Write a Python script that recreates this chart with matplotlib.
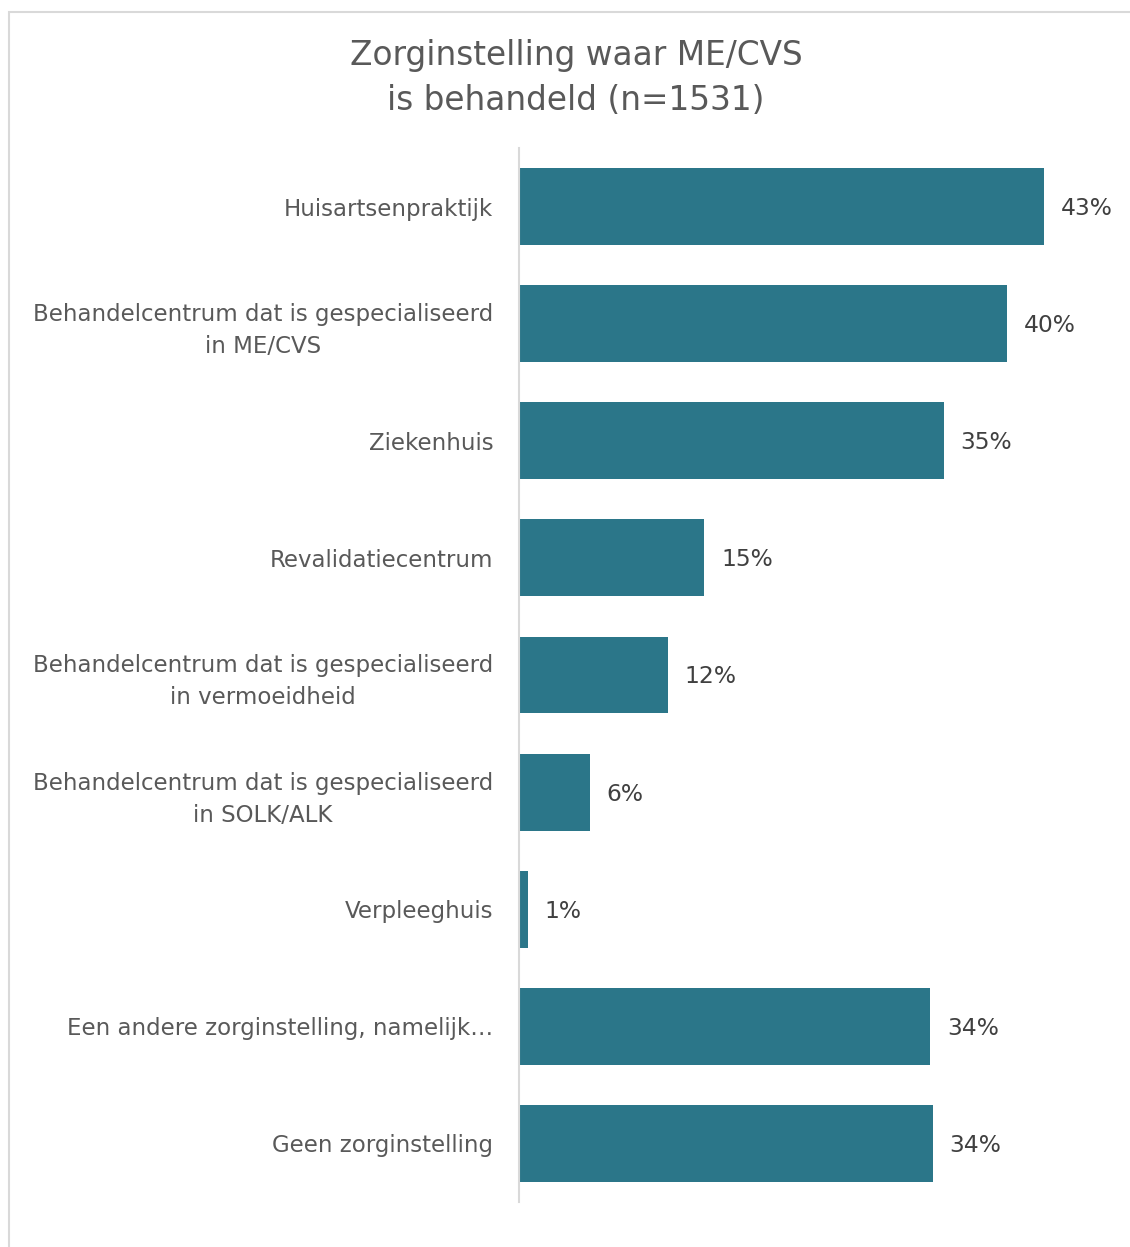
import matplotlib
matplotlib.use("Agg")
import matplotlib.pyplot as plt
from matplotlib.patches import Rectangle

categories = [
    "Huisartsenpraktijk",
    "Behandelcentrum dat is gespecialiseerd\nin ME/CVS",
    "Ziekenhuis",
    "Revalidatiecentrum",
    "Behandelcentrum dat is gespecialiseerd\nin vermoeidheid",
    "Behandelcentrum dat is gespecialiseerd\nin SOLK/ALK",
    "Verpleeghuis",
    "Een andere zorginstelling, namelijk…",
    "Geen zorginstelling",
]
values = [43.0, 40.0, 34.8, 15.2, 12.2, 5.8, 0.7, 33.7, 33.9]
value_labels = ["43%", "40%", "35%", "15%", "12%", "6%", "1%", "34%", "34%"]
title = "Zorginstelling waar ME/CVS\nis behandeld (n=1531)"

W, H = 1130, 1247
fig = plt.figure(figsize=(W / 100, H / 100), dpi=100)
plt.rcParams['font.family'] = ['DejaVu Sans']

# outer border
fig.patches.append(Rectangle((9 / W, -0.01), 1.2, (H - 12) / H + 0.01, transform=fig.transFigure,
                             fill=False, edgecolor="#d9d9d9", linewidth=1.5))

ax_left, ax_right = 519, 1129
ax_top, ax_bottom = 148, 1202
ax = fig.add_axes([ax_left / W, 1 - ax_bottom / H, (ax_right - ax_left) / W, (ax_bottom - ax_top) / H])

bar_color = "#2B7689"
y = list(range(len(categories)))
ax.barh(y, values, height=0.656, color=bar_color, edgecolor="none")
ax.set_ylim(len(categories) - 0.5, -0.5)
ax.set_xlim(0, 50)

for yi, v, lab in zip(y, values, value_labels):
    ax.annotate(lab, xy=(v, yi), xytext=(17, -2), textcoords="offset pixels",
                va="center", ha="left", fontsize=16.8, color="#404040")

ax.set_yticks(y)
ax.set_yticklabels(categories, fontsize=16.5, color="#595959", linespacing=1.5)
for lbl in ax.get_yticklabels():
    lbl.set_horizontalalignment("right")
    lbl.set_multialignment("center")
ax.tick_params(axis="y", length=0, pad=18.5)
ax.set_xticks([])
for s in ["top", "right", "bottom"]:
    ax.spines[s].set_visible(False)
ax.spines["left"].set_color("#d9d9d9")
ax.spines["left"].set_linewidth(1.5)

fig.text(576 / W, 1 - 78 / H, title, ha="center", va="center", fontsize=23.6,
         color="#595959", linespacing=1.45)

fig.savefig("out.png", dpi=100)
